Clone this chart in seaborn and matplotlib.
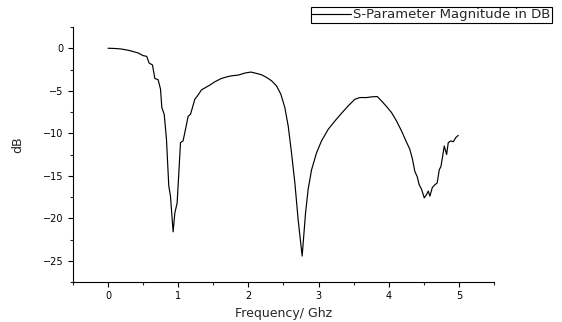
import matplotlib
matplotlib.use("Agg")
import matplotlib.pyplot as plt
from matplotlib.ticker import MultipleLocator
import seaborn as sns
import pandas as pd

freq_ghz = [0.00, 0.10, 0.18, 0.25, 0.31, 0.43, 0.50, 0.55, 0.585, 0.633, 0.666, 0.713,
            0.747, 0.766, 0.80, 0.832, 0.865, 0.889, 0.927, 0.951, 0.984, 1.008, 1.032,
            1.069, 1.108, 1.141, 1.175, 1.236, 1.274, 1.331, 1.393, 1.45, 1.52, 1.617,
            1.70, 1.759, 1.854, 1.949, 2.035, 2.115, 2.187, 2.258, 2.33, 2.40, 2.462,
            2.519, 2.567, 2.614, 2.662, 2.709, 2.766, 2.814, 2.851, 2.90, 2.971, 3.042,
            3.137, 3.232, 3.327, 3.422, 3.517, 3.588, 3.684, 3.755, 3.836, 3.897, 3.969,
            4.04, 4.111, 4.183, 4.245, 4.301, 4.339, 4.372, 4.405, 4.434, 4.468, 4.506,
            4.54, 4.563, 4.587, 4.62, 4.658, 4.69, 4.72, 4.744, 4.768, 4.791, 4.825,
            4.848, 4.886, 4.919, 4.957, 4.99]
s_db = [0.0, -0.03, -0.08, -0.18, -0.28, -0.56, -0.87, -0.95, -1.74, -1.97, -3.55, -3.7,
        -4.8, -6.98, -7.77, -10.7, -16.2, -17.4, -21.6, -19.4, -18.2, -14.7, -11.1,
        -10.9, -9.35, -8.0, -7.77, -6.0, -5.6, -4.9, -4.6, -4.34, -3.95, -3.55,
        -3.35, -3.24, -3.16, -2.92, -2.8, -2.96, -3.12, -3.43, -3.83, -4.42, -5.4,
        -6.98, -9.15, -12.3, -15.85, -20.2, -24.45, -19.4, -16.6, -14.3, -12.3, -10.9,
        -9.54, -8.56, -7.65, -6.78, -6.0, -5.8, -5.8, -5.72, -5.68, -6.2, -6.86,
        -7.57, -8.56, -9.74, -10.9, -11.9, -13.1, -14.5, -15.1, -16.05, -16.6, -17.6,
        -17.2, -16.8, -17.4, -16.4, -16.05, -15.85, -14.3, -13.9, -12.7, -11.5, -12.5,
        -11.1, -10.9, -11.0, -10.5, -10.25]
x_ticks = [0, 1, 2, 3, 4, 5]
y_ticks = [0, -5, -10, -15, -20, -25]
series_label = "S-Parameter Magnitude in DB"

sns.set_style("ticks")
plt.rcParams["font.family"] = ["DejaVu Sans"]

df = pd.DataFrame({"freq": freq_ghz, "db": s_db})

fig = plt.figure(figsize=(5.62, 3.22), dpi=100)
ax = fig.add_axes([73 / 562, 1 - 282 / 322, (494 - 73) / 562, (282 - 27) / 322])

sns.lineplot(data=df, x="freq", y="db", ax=ax, color="black", linewidth=0.85,
             estimator=None, sort=False, label=series_label)

ax.set_xlim(-0.5, 5.5)
ax.set_ylim(-27.5, 2.5)
ax.set_xticks(x_ticks)
ax.set_yticks(y_ticks)
ax.xaxis.set_minor_locator(MultipleLocator(0.5))
ax.yaxis.set_minor_locator(MultipleLocator(2.5))
ax.tick_params(which="major", direction="out", length=3.6, width=0.8, labelsize=7,
               colors="black", pad=3)
ax.tick_params(which="minor", direction="out", length=2.2, width=0.8)

for side in ["top", "right"]:
    ax.spines[side].set_visible(False)
for side in ["left", "bottom"]:
    ax.spines[side].set_color("black")
    ax.spines[side].set_linewidth(0.8)

ax.set_xlabel("Frequency/ Ghz", fontsize=9, va="center")
ax.xaxis.set_label_coords(0.5, -(314 - 282) / 255)
ax.set_ylabel("dB", fontsize=9, va="center")
ax.yaxis.set_label_coords((17.3 - 73) / 421, (282 - 145) / 255)

leg = ax.legend(loc="upper right", bbox_to_anchor=(552 / 562, 1 - 7 / 322),
                bbox_transform=fig.transFigure, borderaxespad=0, fontsize=9.5,
                frameon=True, fancybox=False, framealpha=1, edgecolor="black",
                handlelength=2.9, handletextpad=0.2, borderpad=0.1)
leg.get_frame().set_linewidth(0.8)

fig.savefig("out.png", dpi=100)
